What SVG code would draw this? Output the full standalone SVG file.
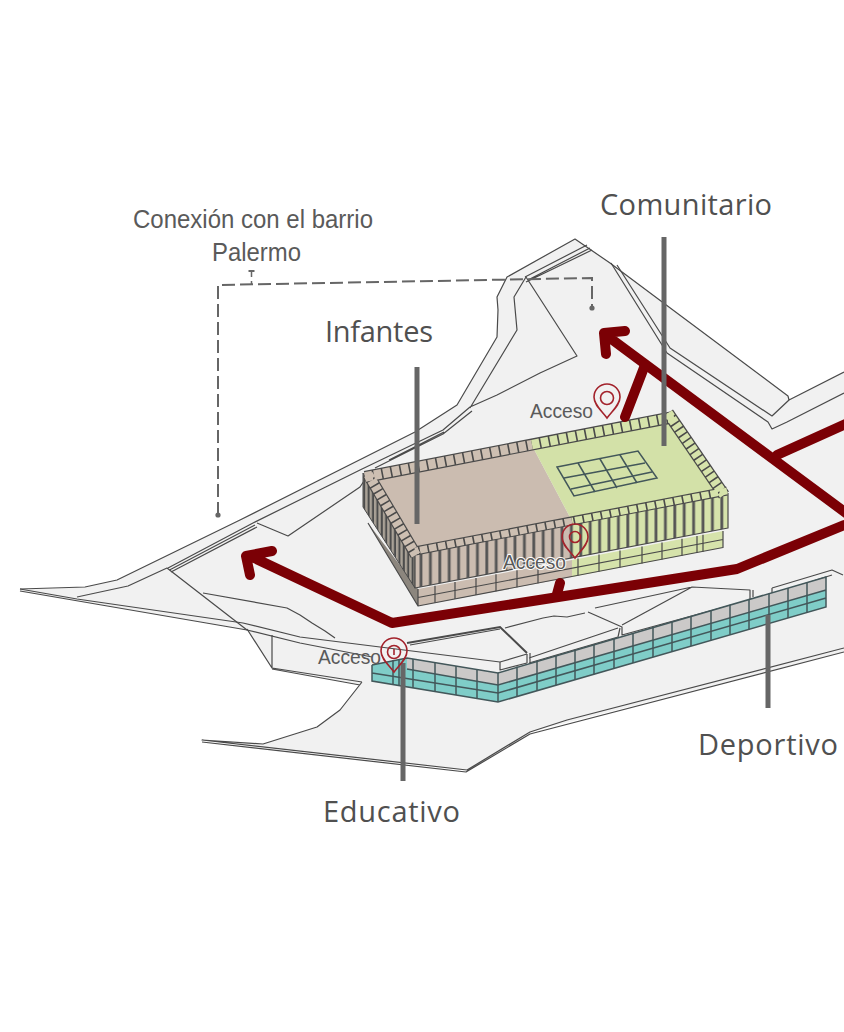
<svg xmlns="http://www.w3.org/2000/svg" width="844" height="1032" viewBox="0 0 844 1032">
<defs>
<style>
.ln{fill:none;stroke:#4a4a4a;stroke-width:1.2;stroke-linejoin:round}
.gr{fill:none;stroke:#43575a;stroke-width:1.5}
.lead{stroke:#666;stroke-width:5;fill:none}
.arr{fill:none;stroke:#7b0005;stroke-width:10;stroke-linecap:round;stroke-linejoin:round}
.pin{fill:none;stroke:#a3232c;stroke-width:1.6}
.lab{font-family:"Open Sans",sans-serif;font-size:29px;fill:#505050}
.sm{font-family:"Liberation Sans",Arial,sans-serif;fill:#5a5a5a}
.dk{fill:none;stroke:#4a4a4a}
.rim{fill:none;stroke-dasharray:7.6 1.6}
.rs{fill:none;stroke-dasharray:5.2 1.6}
</style>
<pattern id="finB" patternUnits="userSpaceOnUse" width="9.4" height="100" patternTransform="skewY(-10.9)">
<rect width="9.4" height="100" fill="#cbbcb0"/><rect x="6" width="2.8" height="100" fill="#555"/>
</pattern>
<pattern id="finG" patternUnits="userSpaceOnUse" width="9.4" height="100" patternTransform="skewY(-10.9)">
<rect width="9.4" height="100" fill="#d6e3ab"/><rect x="6" width="2.8" height="100" fill="#555"/>
</pattern>
<pattern id="finL" patternUnits="userSpaceOnUse" width="4.4" height="100">
<rect width="4.4" height="100" fill="#a9a196"/><rect x="2.4" width="2" height="100" fill="#4c4c4c"/>
</pattern>
<path id="pinShape" d="M0,0C-5,-7 -13,-13 -13,-21A13,13 0 1 1 13,-21C13,-13 5,-7 0,0Z"/>
</defs>
<rect width="844" height="1032" fill="#fff"/>

<g id="terreno">
<path d="M20,590L85,587 117,580 240,520 415,432 457,405 497,337 498,310 497,297 507,277 575,239 610,263 788,396 789,400 844,372 844,652 530,732 467,770 202,740 263,744 317,727 340,710 362,682 360,685 272,669 247,630 20,591Z" fill="#f1f1f1"/>
<path class="ln" d="M20,589L85,587 117,580 240,520 415,432 457,405 497,337 498,310 497,297 507,277 575,239 610,263 788,396 789,400 844,372"/>
<path class="ln" d="M20,589L77,599 243,623 300,637 500,662 527,654M20,591L247,630 300,643 372,657"/>
<path class="ln" d="M77,597L128,586 167,568 247,630M203,593L287,608 300,615 312,623 325,631 335,638"/>
<path class="ln" d="M168,568L253,523M169.500,570L255,525M171,572L257,527M253,523L360,470 387,457 443,430 470,407 497,395 540,373 577,356 526,277 514,297 517,330 470,408M257,523L288,536 360,487 366,478M375,468L443,434 472,411M389,460L444,432"/>
<path class="ln" d="M528,280L590,248M525,277L587,245M526,282L592,250"/>
<path class="ln" d="M611,263L667,353 768,422 772,429 787,422 844,393M617,265L670,348 772,416 789,400"/>
<path class="ln" d="M247,629L272,668M272,635V668L362,682M272,669L360,685M362,682L340,710 317,727 263,744 202,740 467,770 530,732 567,720 844,648M202,742L466,772 530,734 844,652"/>
<path class="ln" d="M410,645L500,629M500,662V670L527,663M530,653V663M527,654V663M529,658L618,628M529,663L618,637 620,628M505,628L543,618 554,616 567,617 585,613M588,612L622,627V635L750,600V590L692,587 622,625M595,608L692,587M753,590V597M772,588L832,570 843,575M772,588V594L832,575"/>
<path d="M407,643L500,627 527,653" fill="none" stroke="#4a4a4a" stroke-width="2"/>
</g>

<g id="educativo">
<path d="M372,665L407,658 498,673 826,577V607L498,702 372,681Z" fill="#7fcdc8"/>
<path d="M407,658L498,673 826,577V590L498,685 407,669Z" fill="#cbc9c8"/>
<path class="gr" d="M372,665L407,658 498,673 826,577V607L498,702 372,681V665M407,669L498,685 826,590M372,673L498,693 826,598"/>
<path class="gr" d="M393,660V685M399,660V686M413,659V688M435,663V692M456,666V695M477,669V699M498,673V702M517,666.500V696.500M537,660.700V690.700M556,655.200V685.200M575,649.700V679.700M594,644.200V674.200M614,638.400V668.400M633,632.900V662.900M653,627V657M672,621.500V651.500M691,616V646M711,610.200V640.200M730,604.700V634.700M749,599.200V629.200M769,593.400V623.400M788,587.900V617.900M807,582.400V612.400"/>
</g>

<g id="edificio">
<path d="M368,523L418,606V589Z" fill="#8c867e"/>
<path d="M418,589L572,560V577L418,606Z" fill="#cbbcb0"/>
<path d="M572,560L723,531V547.500L572,577Z" fill="#d6e3ab"/>
<path class="ln" d="M368,523L418,606 723,547.500V531M418,589V606M418,597.500L723,539.500"/>
<path class="ln" d="M435,585.800V602.800M455,582V599M476,578V595M496,574.200V591.200M517,570.200V587.200M538,566.200V583.200M578,558.600V575.600M599,554.600V571.600M620,550.600V567.600M642,546.400V563.400M662,542.600V559.600M682,538.800V555.800M697,536V553M703,534.800V551.800"/>
<path d="M363,473L415,553V588L363,507Z" fill="url(#finL)" stroke="#4a4a4a"/>
<path d="M415,553L572,522.900V557.900L415,588Z" fill="url(#finB)"/>
<path d="M572,522.900L728,493V528L572,557.900Z" fill="url(#finG)"/>
<path class="ln" d="M415,553V588L728,528V493"/>
<path d="M371,476L532,445.500 572,521 418,551Z" fill="#cbbcb0"/>
<path d="M532,445.500L671,419 720,492 572,521Z" fill="#d3e1a8"/>
<path class="gr" d="M557,467L638,451 657,478 574,496ZM578,463L595,492M600,459L617,488M620,455L637,483M564,478L645,463M571,489L652,472"/>
<path class="dk" stroke-width="12" d="M365,477L674,417"/>
<path class="dk" stroke-width="12" d="M668,413L724,495"/>
<path class="dk" stroke-width="9" d="M727,491L415,551"/>
<path class="dk" stroke-width="12" d="M416,555L368,474"/>
<path class="rim" stroke-width="9.600" stroke="#cdbfb2" d="M365,477L532,444.600"/>
<path class="rim" stroke-width="9.600" stroke="#d6e3ab" d="M532,444.600L674,417"/>
<path class="rs" stroke-width="9.600" stroke="#d6e3ab" d="M668,413L724,495"/>
<path class="rim" stroke-width="6.800" stroke="#d6e3ab" d="M727,491L572,521"/>
<path class="rim" stroke-width="6.800" stroke="#cdbfb2" d="M572,521L415,551"/>
<path class="rs" stroke-width="9.600" stroke="#cdbfb2" d="M416,555L368,474"/>
</g>

<g id="conectores">
<path class="arr" d="M844,525L737,569 392,623 250,556M272,551L246,556 250,575"/>
<path class="arr" d="M850,516L610,338M625,331L604,333 606,354"/>
<path class="arr" d="M625,417L645,365M777,455L850,422M560,583L557,594"/>
<path class="lead" d="M664,237V446M417,367V524M403,663V781M768,615V708"/>
<path d="M218,515V285L592,278V308" fill="none" stroke="#666" stroke-width="2" stroke-dasharray="13 5"/>
<path d="M251.500,272V277M251.500,281V284" fill="none" stroke="#666" stroke-width="1.500"/>
<path d="M248.500,270H254.500V272H248.500Z" fill="#666"/>
<circle cx="218" cy="515" r="2.600" fill="#666"/>
<circle cx="592" cy="308" r="2.600" fill="#666"/>
</g>

<g id="pin-comunitario" class="pin"><use href="#pinShape" x="607" y="418"/><circle cx="607" cy="398" r="6.500"/></g>
<g id="pin-infantes" class="pin"><use href="#pinShape" x="575" y="558"/><circle cx="575" cy="537" r="5.500"/></g>
<g id="pin-educativo" class="pin"><use href="#pinShape" x="394" y="672"/><circle cx="394" cy="652" r="6.500"/><path d="M394,649V655"/></g>

<g id="etiquetas">
<text class="lab" x="600" y="215" textLength="172">Comunitario</text>
<text class="lab" x="325" y="342" textLength="108">Infantes</text>
<text class="lab" x="698" y="755" textLength="140">Deportivo</text>
<text class="lab" x="323" y="822" textLength="137">Educativo</text>
<text class="sm" x="133" y="228" font-size="25.500" textLength="240" lengthAdjust="spacingAndGlyphs">Conexión con el barrio</text>
<text class="sm" x="212" y="261" font-size="25.500" textLength="89" lengthAdjust="spacingAndGlyphs">Palermo</text>
<text class="sm" x="530" y="418" font-size="20" textLength="63" lengthAdjust="spacingAndGlyphs">Acceso</text>
<text class="sm" x="503" y="569" font-size="20" textLength="63" lengthAdjust="spacingAndGlyphs" stroke="#fff" stroke-width="2" paint-order="stroke">Acceso</text>
<text class="sm" x="318" y="664" font-size="20" textLength="63" lengthAdjust="spacingAndGlyphs">Acceso</text>
</g>
</svg>
